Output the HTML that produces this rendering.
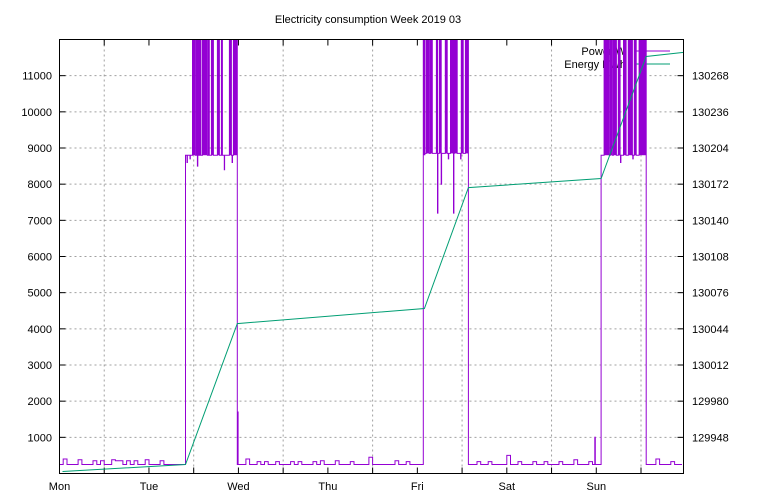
<!DOCTYPE html>
<html><head><meta charset="utf-8"><style>
body{margin:0;background:#fff;}
svg{display:block;font-family:"Liberation Sans",sans-serif;font-size:11px;}
</style></head><body>
<svg id="chart" width="768" height="500">
<text x="368" y="23" text-anchor="middle">Electricity consumption Week 2019 03</text>
<g id="grid"></g>
<g id="axes"></g>
<g>
<text x="626" y="55" text-anchor="end">Power W</text>
<line x1="636" y1="51" x2="670" y2="51" stroke="#9400d3"/>
<text x="626" y="68" text-anchor="end">Energy KWh</text>
<line x1="636" y1="64" x2="670" y2="64" stroke="#009e73"/>
</g>
<g id="series"></g>
<rect x="59.5" y="39.5" width="624" height="434" fill="none" stroke="#000"/>
</svg>
<script>
const dayLabels=["Mon","Tue","Wed","Thu","Fri","Sat","Sun"];
const leftTicks=[1000,2000,3000,4000,5000,6000,7000,8000,9000,10000,11000];
const rightTicks=[129948,129980,130012,130044,130076,130108,130140,130172,130204,130236,130268];
const powerBase=[
250,400,250,250,250,380,250,250,250,350,250,350,250,250,380,350,350,250,350,250,350,250,250,380,
250,250,250,350,250,250,250,250,250,250,250,250,250,250,250,250,250,250,250,250,250,250,250,250,
250,250,400,250,250,330,250,330,250,250,330,250,250,250,330,250,330,250,250,250,330,250,350,250,
250,250,350,250,250,250,330,250,250,250,250,450,250,250,250,250,250,250,350,250,250,330,250,250,
250,250,250,250,250,250,250,250,250,250,250,250,250,250,250,250,330,250,250,330,250,250,250,250,
500,250,250,330,250,250,250,330,250,250,330,250,250,250,330,250,250,250,380,250,250,250,330,250,
250,250,250,250,250,250,250,250,250,250,250,250,250,250,250,250,400,250,250,250,330,250,250,250];
const hiStart=[33.8,97.9,145.3];
const hiEnd=[47.7,109.7,157.4];
const hiLevel=[8800,8850,8800];
const spikeStart=[35.67,36.74,38.35,39.96,40.76,42.37,43.44,45.59,46.66,
97.6,98.4,99.5,101.1,101.9,103.5,104.9,105.9,107.8,108.9,
146.1,147.8,148.6,149.9,151.3,152.6,154.2,155.5];
const spikeEnd=[36.47,38.08,39.69,40.2,41.3,42.9,43.71,46.12,47.7,
98.15,99.2,100.0,101.4,102.4,104.0,105.7,106.7,108.3,109.7,
147.5,148.3,149.4,150.4,152.0,153.7,154.7,157.4];
const dipT=[34.2,35.0,37.0,44.2,46.3,101.4,102.4,104.3,105.7,107.6,150.5,153.8];
const dipV=[8600,8700,8500,8400,8600,7200,8000,8700,7200,8700,8600,8700];
const shortT=[47.75,143.6];
const shortV=[1700,1000];
const energyT=[0.8,33.8,47.7,97.9,109.7,145.3,157.4,167.4];
const energyV=[129917.8,129924,130048.6,130062,130169,130177,130285,130288.6];

const L=59.5,R=683.5,T=39.5,B=473.5,XMAX=167.4;
const sx=h=>L+(R-L)*h/XMAX;
const syL=v=>B-(B-T)*v/12000;
const syR=v=>B-(B-T)*(v-129916)/384;
const NS="http://www.w3.org/2000/svg";
function mk(tag,attrs,parent){const e=document.createElementNS(NS,tag);for(const k in attrs)e.setAttribute(k,attrs[k]);parent.appendChild(e);return e;}
const grid=document.getElementById('grid'),axes=document.getElementById('axes'),series=document.getElementById('series');

leftTicks.forEach((v,i)=>{const y=syL(v);
 const g=mk('line',{x1:L,x2:R,y1:y,y2:y,stroke:'#a0a0a0','stroke-dasharray':'2,3'},grid);
 
 
 const t1=mk('line',{x1:L,x2:L+6,y1:y,y2:y,stroke:'#000'},axes);
 
 
 const t2=mk('line',{x1:R-6,x2:R,y1:y,y2:y,stroke:'#000'},axes);
 
 
 const lt=mk('text',{x:52,y:y+4,'text-anchor':'end'},axes);lt.textContent=v;
 
 
 const rt=mk('text',{x:692,y:syR(rightTicks[i])+4},axes);rt.textContent=rightTicks[i];
 
 
});
for(let h=0;h<=XMAX;h+=12){const x=sx(h);
 if(h%24===12){const g=mk('line',{x1:x,x2:x,y1:T,y2:B,stroke:'#a0a0a0','stroke-dasharray':'2,3'},grid);
  
  }
 const a=mk('line',{x1:x,x2:x,y1:B,y2:B-6,stroke:'#000'},axes);
 
 
 const b=mk('line',{x1:x,x2:x,y1:T,y2:T+6,stroke:'#000'},axes);
 
 
}
dayLabels.forEach((d,i)=>{const t=mk('text',{x:sx(i*24),y:490,'text-anchor':'middle'},axes);t.textContent=d;
 
 });

let pts=[];
function inHi(h){for(let i=0;i<hiStart.length;i++)if(h>=hiStart[i]&&h<hiEnd[i])return i;return -1;}
for(let h=0;h<powerBase.length;h++){ pts.push([h,powerBase[h]]); }
for(let i=0;i<hiStart.length;i++){
 pts.push([hiStart[i],hiLevel[i]]);
 pts.push([hiEnd[i],powerBase[Math.min(powerBase.length-1,Math.ceil(hiEnd[i]))]]);
}
spikeStart.forEach((s,i)=>{const p=inHi(s+0.01);const lv=p<0?hiLevel[0]:hiLevel[p];
 pts.push([s,13000]);pts.push([spikeEnd[i],spikeEnd[i]>=hiEnd[p<0?0:p]-0.01?powerBase[Math.ceil(spikeEnd[i])]:lv]);});
dipT.forEach((t,i)=>{const p=inHi(t);pts.push([t,dipV[i]]);pts.push([t+0.1,p<0?hiLevel[0]:hiLevel[p]]);});
shortT.forEach((t,i)=>{pts.push([t,shortV[i]]);pts.push([t+0.15,powerBase[Math.floor(t)]]);});
pts=pts.filter(p=>p[0]<=XMAX);
pts.sort((a,b)=>a[0]-b[0]);
pts=pts.filter(p=>{const k=inHi(p[0]);return k<0||p[1]>=1000||p[0]===hiStart[k];});
let d='';pts.forEach((p,i)=>{const x=sx(p[0]).toFixed(1),y=Math.max(T,syL(p[1])).toFixed(1);
 if(i===0)d+='M'+x+','+y;else d+='H'+x+'V'+y;});
const cp=mk('clipPath',{id:'clip'},series);mk('rect',{x:L,y:T,width:R-L,height:B-T},cp);
const pw=mk('path',{d:d,fill:'none',stroke:'#9400d3','stroke-width':1,'clip-path':'url(#clip)'},series);


spikeStart.forEach((s,i)=>{const p=inHi(s+0.01);const lv=p<0?hiLevel[0]:hiLevel[p];
 const r=mk('rect',{x:sx(s),y:T,width:Math.max(1,sx(spikeEnd[i])-sx(s)),height:syL(lv)-T,fill:'#9400d3'},series);
 
 });
let e='';energyT.forEach((t,i)=>{e+=(i?'L':'M')+sx(t).toFixed(1)+','+syR(energyV[i]).toFixed(1);});
const en=mk('path',{d:e,fill:'none',stroke:'#009e73','stroke-width':1},series);


</script>
</body></html>
